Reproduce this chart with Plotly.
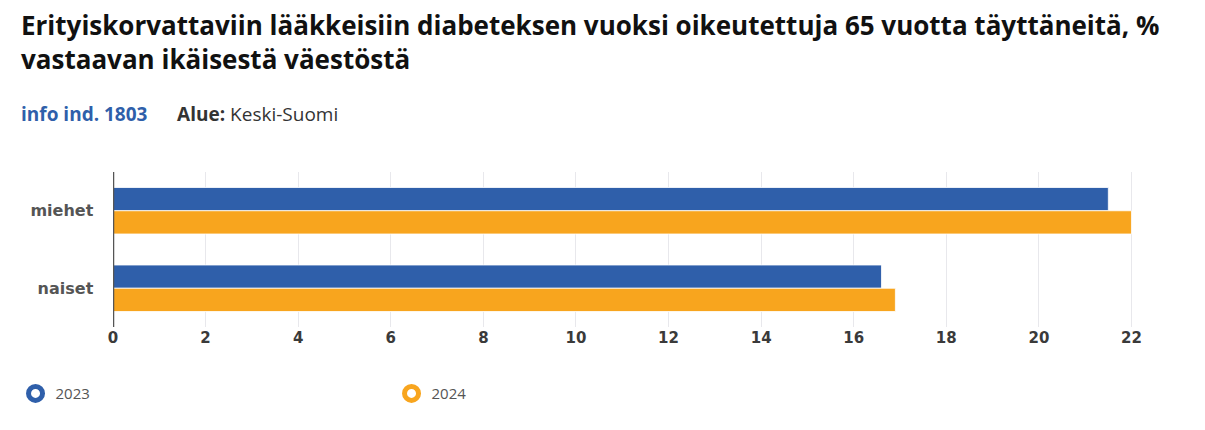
import plotly.graph_objects as go

categories = ["miehet", "naiset"]
years = ["2023", "2024"]
values_2023 = [21.5, 16.6]
values_2024 = [22.0, 16.9]
colors = ["#2f5faa", "#f8a51e"]
tick_vals = list(range(0, 23, 2))

fig = go.Figure()
for name, vals, col in zip(years, [values_2023, values_2024], colors):
    fig.add_trace(go.Bar(
        y=categories, x=vals, orientation="h", name=name,
        marker=dict(color=col, line=dict(color="rgba(255,255,255,0.8)", width=1)),
        showlegend=False, hoverinfo="x+name",
    ))
for name, col in zip(years, colors):
    fig.add_trace(go.Scatter(
        x=[None], y=[None], mode="markers", name=name,
        marker=dict(symbol="circle-open", size=14, color=col, line=dict(color=col, width=5)),
        showlegend=True,
    ))

title_font = dict(family="Open Sans", size=26, color="#111")
fig.update_layout(
    width=1205, height=430,
    margin=dict(l=105, r=63, t=164, b=111, autoexpand=False),
    paper_bgcolor="white", plot_bgcolor="white",
    barmode="group", bargap=0.4, bargroupgap=0.0,
    font=dict(family="DejaVu Sans", color="#333"),
    xaxis=dict(range=[0, 22.4], tickvals=tick_vals, showgrid=True, gridcolor="#e8e8ec",
               gridwidth=1, zeroline=False, showline=False, ticks="", automargin=False,
               tickfont=dict(family="DejaVu Sans", size=15, color="#3a3a3a", weight="bold")),
    yaxis=dict(autorange="reversed", showgrid=False, zeroline=False, showline=False, ticks="",
               ticksuffix="   ", automargin=False, ticklabelstandoff=2,
               tickfont=dict(family="DejaVu Sans", size=16, color="#555", weight="bold")),
    legend=dict(orientation="h", x=-0.094, y=-0.43, xanchor="left", yanchor="middle",
                entrywidth=331, entrywidthmode="pixels",
                font=dict(family="Open Sans", size=15, color="#555")),
    shapes=[dict(type="line", xref="x", yref="paper", x0=0, x1=0, y0=0, y1=1,
                 line=dict(color="#555", width=2.5))],
    annotations=[
        dict(xref="paper", yref="paper", x=-0.091, y=1.0, xanchor="left", yanchor="middle",
             yshift=147, align="left", showarrow=False,
             text="<b>Erityiskorvattaviin lääkkeisiin diabeteksen vuoksi oikeutettuja 65 vuotta täyttäneitä, %</b>",
             font=title_font),
        dict(xref="paper", yref="paper", x=-0.091, y=1.0, xanchor="left", yanchor="middle",
             yshift=113, align="left", showarrow=False,
             text="<b>vastaavan ikäisestä väestöstä</b>",
             font=title_font),
        dict(xref="paper", yref="paper", x=-0.091, y=1.0, xanchor="left", yanchor="middle",
             yshift=58, align="left", showarrow=False,
             text="<span style='color:#2f5faa'><b>info ind. 1803</b></span>      <b>Alue:</b> Keski-Suomi",
             font=dict(family="Open Sans", size=19, color="#333")),
    ],
)
fig.write_html("out.html")
